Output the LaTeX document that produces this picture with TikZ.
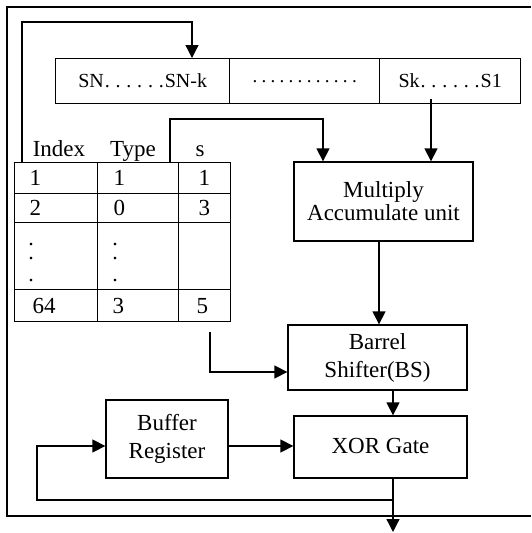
\documentclass[tikz,border=0pt]{standalone}
\usepackage{fontspec}
\setmainfont{Liberation Serif}
\usetikzlibrary{arrows.meta}
\tikzset{
  ln/.style={line width=1.3pt, line cap=rect},
  arr/.style={ln, -{Triangle[length=13pt,width=13pt]}},
  blk/.style={draw, line width=1.3pt, rectangle, inner sep=0pt, align=center,
              font=\fontsize{23}{28}\selectfont},
  regbox/.style={draw, line width=1.3pt, rectangle, inner sep=0pt, anchor=north west,
                 minimum height=45pt, font=\fontsize{20}{22}\selectfont},
  cell/.style={draw, line width=1.3pt, rectangle, anchor=north west, inner ysep=0pt,
               align=left, font=\fontsize{23}{26}\selectfont},
  hdr/.style={anchor=base, inner sep=0pt, font=\fontsize{23}{26}\selectfont},
  vdots/.style={inner sep=0pt, anchor=south, text depth=0pt, align=center,
                font=\fontsize{22}{14}\selectfont},
}
\newcommand{\rdot}{.\kern5.8pt}
\newcommand{\mdot}{.\kern4.3pt}
\begin{document}
\begin{tikzpicture}[x=1pt,y=-1pt]
\useasboundingbox (0,0) rectangle (531,533);
% outer frame (right side beyond picture)
\draw[ln, line cap=butt] (531,7) -- (7,7) -- (7,516) -- (531,516);

% register
\node[regbox, minimum width=174pt] (reg1) at (55,58) {SN\kern1pt\rdot\rdot\rdot\rdot\rdot.\kern1pt SN-k};
\node[regbox, minimum width=150pt] (reg2) at (229,58) {\fontsize{19}{19}\selectfont\mdot\mdot\mdot\mdot\mdot\mdot\mdot\mdot\mdot\mdot\mdot.};
\node[regbox, minimum width=141pt] (reg3) at (379,58) {Sk\kern1pt\rdot\rdot\rdot\rdot\rdot.\kern1pt S1};

% table header
\node[hdr] (hidx) at (59,156) {Index};
\node[hdr] (htyp) at (133,156) {Type};
\node[hdr] (hs) at (200,156) {s};

% table cells
\node[cell, minimum width=83pt, minimum height=31pt, inner xsep=15pt, text width=53pt] (a1) at (14,162) {1};
\node[cell, minimum width=81pt, minimum height=31pt, inner xsep=16pt, text width=49pt] (b1) at (97,162) {1};
\node[cell, minimum width=52pt, minimum height=31pt, inner xsep=20pt, text width=12pt] (c1) at (178,162) {1};
\node[cell, minimum width=83pt, minimum height=29pt, inner xsep=15pt, text width=53pt] (a2) at (14,193) {2};
\node[cell, minimum width=81pt, minimum height=29pt, inner xsep=16pt, text width=49pt] (b2) at (97,193) {0};
\node[cell, minimum width=52pt, minimum height=29pt, inner xsep=20pt, text width=12pt] (c2) at (178,193) {3};
\node[cell, minimum width=83pt, minimum height=67pt] (a3) at (14,222) {};
\node[cell, minimum width=81pt, minimum height=67pt] (b3) at (97,222) {};
\node[cell, minimum width=52pt, minimum height=67pt] (c3) at (178,222) {};
\node[cell, minimum width=83pt, minimum height=32pt, inner xsep=18pt, text width=47pt] (a4) at (14,289) {64};
\node[cell, minimum width=81pt, minimum height=32pt, inner xsep=15pt, text width=51pt] (b4) at (97,289) {3};
\node[cell, minimum width=52pt, minimum height=32pt, inner xsep=18pt, text width=16pt] (c4) at (178,289) {5};

% vertical dots in table
\node[vdots] (dcol1) at (31,281.5) {.\\.\\[8pt].};
\node[vdots] (dcol2) at (115,281.5) {.\\.\\[8pt].};

% blocks
\node[blk, minimum width=179pt, minimum height=79pt] (mac) at (383.5,201.5) {Multiply\\[-5pt]Accumulate unit};
\node[blk, minimum width=179pt, minimum height=65pt] (bs) at (377.5,357.5) {Barrel\\Shifter(BS)};
\node[blk, minimum width=173pt, minimum height=62pt] (xor) at (380.5,447) {\raisebox{3pt}{XOR Gate}};
\node[blk, minimum width=122pt, minimum height=78pt] (buf) at (167,439) {Buffer\\Register};

% connector coordinates
\coordinate (fbs) at (22,162);
\coordinate (fbt) at (22,22);
\coordinate (fbr) at (192,22);
\coordinate (ss) at (170,162);
\coordinate (st) at (170,119);
\coordinate (sr) at (323,119);
\coordinate (s5) at (210,333);
\coordinate (s5c) at (210,372);
\coordinate (outend) at (393,532);
\coordinate (br) at (393,500);
\coordinate (bl) at (37,500);
\coordinate (bu) at (37,446);

% connectors
\draw[arr] (fbs) -- (fbt) -- (fbr) -- (fbr |- reg1.north);
\draw[arr] (ss) -- (st) -- (sr) -- (sr |- mac.north);
\draw[arr] (reg3.south -| 431,0) ++(0,-5) -- (mac.north -| 431,0);
\draw[arr] (mac.south -| 379,0) -- (bs.north -| 379,0);
\draw[arr] (s5) -- (s5c) -- (s5c -| bs.west);
\draw[arr] (bs.south -| 393,0) -- (xor.north -| 393,0);
\draw[arr] (buf.east |- 0,446) -- (xor.west |- 0,446);
\draw[arr] (xor.south -| 393,0) -- (outend);
\draw[arr] (br) -- (bl) -- (bu) -- (buf.west |- bu);
\end{tikzpicture}
\end{document}
